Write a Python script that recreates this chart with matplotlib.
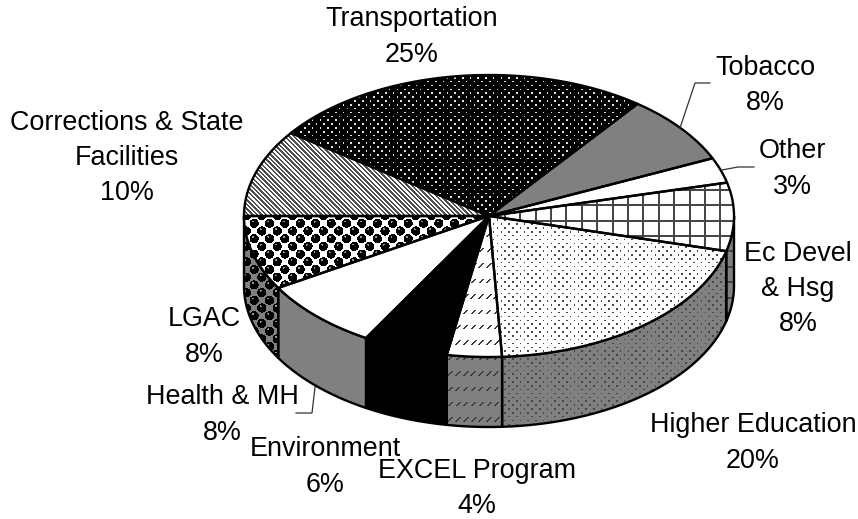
import numpy as np
import matplotlib
matplotlib.use("Agg")
import matplotlib.pyplot as plt
from matplotlib.patches import Polygon

# Data: clockwise from the left edge of the pie
categories = ["Corrections & State\nFacilities", "Transportation", "Tobacco", "Other",
              "Ec Devel\n& Hsg", "Higher Education", "EXCEL Program", "Environment",
              "Health & MH", "LGAC"]
shares = [10.0, 25.3, 7.9, 2.9, 7.8, 20.1, 3.6, 5.6, 8.1, 8.5]

W, H = 858, 519
CX, CY, RX, RY, DEPTH = 489, 216, 245, 141, 70
plt.rcParams["font.family"] = ["Liberation Sans", "DejaVu Sans"]

fig = plt.figure(figsize=(W / 100, H / 100), dpi=100, facecolor="white")
ax = fig.add_axes([0, 0, 1, 1])
ax.set_axis_off()

X, Y = np.meshgrid(np.arange(W) + 0.5, np.arange(H) + 0.5)


def dots(p, s):
    return ((X % p < s) & (Y % p < s)) | (((X + p / 2) % p < s) & ((Y + p / 2) % p < s))


def fill(bg, mask=None, fgval=0):
    a = np.full((H, W), float(bg))
    if mask is not None:
        a[mask] = fgval
    return a


def pat_transport(bg):
    return fill(0, mask=dots(7.7, 1.6), fgval=225)


def pat_stripes(bg):
    return fill(bg, mask=((X - Y) % 4.6 < 2.3), fgval=80)


def pat_solid(bg):
    return fill(bg)


def pat_black(bg):
    return fill(0)


def pat_fine(bg):
    return fill(bg, mask=dots(7.7, 1.6), fgval=70)


def pat_grid(bg):
    m = ((X - 11) % 15.4 < 2.0) | ((Y - 4) % 15.4 < 2.0)
    return fill(bg, mask=m, fgval=70)


def pat_dash(bg):
    px, py = 7.7, 15.4
    u = X % px
    v = Y % py
    m = (np.abs(u + v - 7.5) < 1.0) & (v < 6.0) & (v > 1.5)
    return fill(bg, mask=m, fgval=60)


def pat_balls(bg):
    p = 15.4
    a = np.full((H, W), float(bg))
    a[((X + Y) % p < 3) & ((X - Y) % p < 3)] = 128
    for ox, oy in ((0, 0), (p / 2, p / 2)):
        dx = (X + ox) % p - p / 2
        dy = (Y + oy) % p - p / 2
        a[dx ** 2 + dy ** 2 < 4.6 ** 2] = 0
        a[(dx + 1.2) ** 2 + (dy + 1.8) ** 2 < 1.0] = 150
    return a


patterns = [pat_stripes, pat_transport, pat_solid, pat_solid, pat_grid,
            pat_fine, pat_dash, pat_black, pat_solid, pat_balls]
top_bg = [255, 0, 128, 255, 255, 255, 255, 0, 255, 255]


def arc(t1, t2):
    n = max(int(abs(t2 - t1)) * 2, 2)
    t = np.radians(np.linspace(t1, t2, n))
    return CX + RX * np.cos(t), CY - RY * np.sin(t)


def painted(pts, img, z):
    poly = Polygon(pts, closed=True, facecolor="none", edgecolor="black",
                   linewidth=1.7, joinstyle="round", zorder=z + 0.5)
    ax.add_patch(poly)
    im = ax.imshow(img, cmap="gray", vmin=0, vmax=255, extent=(0, W, H, 0),
                   interpolation="nearest", aspect="auto", zorder=z)
    im.set_clip_path(poly)


angles = 180 - 3.6 * np.cumsum([0] + shares) * 100 / sum(shares)

# sides (lower half only)
for i, pat in enumerate(patterns):
    a1, a2 = angles[i], angles[i + 1]
    lo1, lo2 = min(a1, 0), max(a2, -180)
    if lo1 <= lo2 or a1 <= -180:
        continue
    x, y = arc(lo1, lo2)
    pts = np.r_[np.c_[x, y], np.c_[x[::-1], y[::-1] + DEPTH]]
    bg = 0 if top_bg[i] == 0 else 128
    painted(pts, pat(bg), 2)

# tops
for i, pat in enumerate(patterns):
    x, y = arc(angles[i], angles[i + 1])
    pts = np.r_[[[CX, CY]], np.c_[x, y]]
    painted(pts, pat(top_bg[i]), 3)

ax.set_xlim(0, W)
ax.set_ylim(H, 0)

# labels
label_pos = [(127, 158), (412, 37), (765, 85.5), (792, 169), (798, 289),
             (753, 443), (477, 488.5), (325, 467), (222, 415), (204, 337)]
for name, share, (lx, ly) in zip(categories, shares, label_pos):
    ax.text(lx, ly, f"{name}\n{share:.0f}%", ha="center", va="center",
            fontsize=19.4, color="black", linespacing=1.46, zorder=6)

# leader lines
leaders = [([680, 695, 710], [128, 83, 83]),
           ([722, 738, 754], [170, 167, 167]),
           ([315, 312, 296], [387, 413, 413])]
for lxs, lys in leaders:
    ax.plot(lxs, lys, color="#333333", linewidth=0.9, zorder=5)

fig.savefig("out.png", dpi=100, facecolor="white")
